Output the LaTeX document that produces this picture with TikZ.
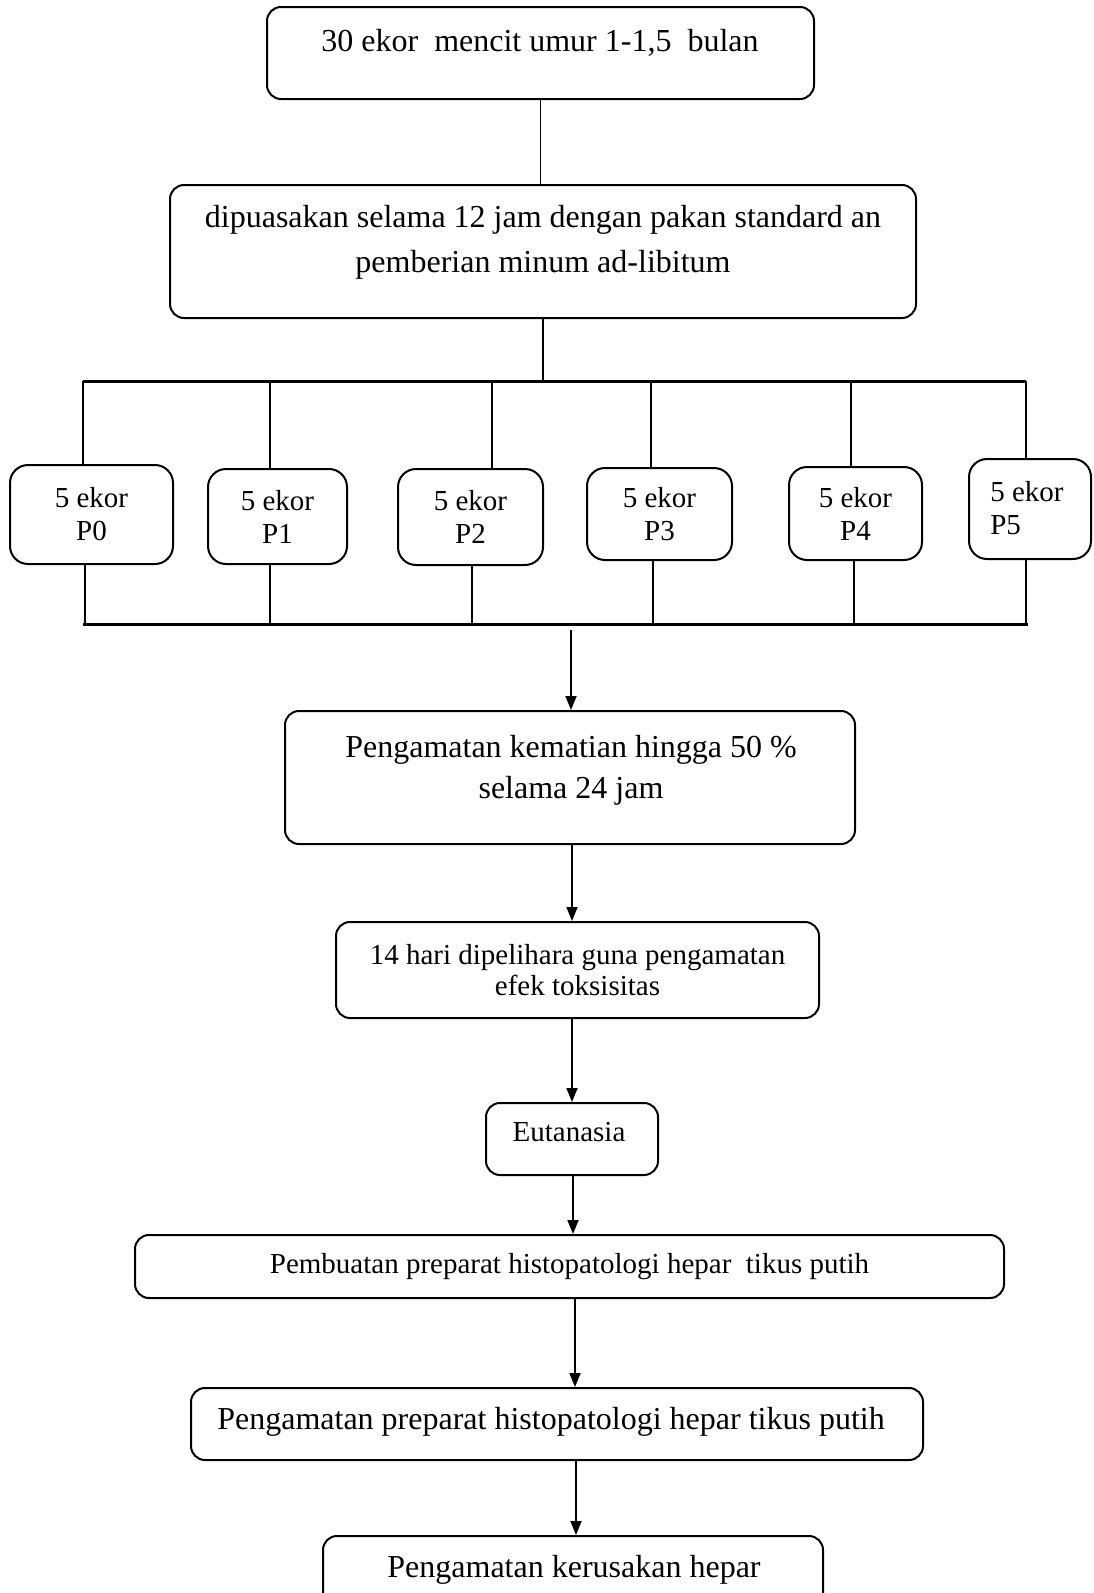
\documentclass[tikz,border=0pt]{standalone}
\usepackage{fontspec}
\setmainfont{Liberation Serif}
\usetikzlibrary{arrows.meta,calc}
\begin{document}
\begin{tikzpicture}[x=1pt,y=-1pt,
  box/.style={draw, line width=2pt, rounded corners=14pt, inner sep=0pt},
  gbox/.style={draw, line width=2pt, rounded corners=18pt, inner sep=0pt, align=center, font=\fontsize{29}{33}\selectfont},
  txtA/.style={font=\fontsize{32}{45}\selectfont, align=center, inner sep=0pt},
  txtB/.style={font=\fontsize{29}{31}\selectfont, align=center, inner sep=0pt},
  ln/.style={line width=1.5pt},
  bar/.style={line width=3pt},
  arr/.style={line width=1.8pt, -{Triangle[length=14pt,width=11pt]}}]
\clip (0,0) rectangle (1093,1593);
\fill[white] (0,0) rectangle (1093,1593);

% top boxes
\node[box, minimum width=547pt, minimum height=92pt] (T) at (540.5,53) {};
\node[txtA] (Tt) at (540,43) {30 ekor\ \ mencit umur 1-1,5\ \ bulan};
\node[box, minimum width=746pt, minimum height=133pt] (D) at (543,251.5) {};
\node[txtA] (Dt) at (543,242) {dipuasakan selama 12 jam dengan pakan standard an\\pemberian minum ad-libitum};
\draw[ln] (T.south) -- (T.south |- D.north);

% split bar
\coordinate (S) at (543,381);
\coordinate (BL) at (83,381);
\coordinate (BR) at (1026,381);
\draw[ln] (D.south -| S) -- (S);
\draw[bar] (BL) -- (BR);

% group boxes
\node[gbox, minimum width=163pt, minimum height=99pt] (P0) at (91.5,514.5) {5 ekor\\P0};
\node[gbox, minimum width=139pt, minimum height=95pt] (P1) at (277.5,516.5) {5 ekor\\P1};
\node[gbox, minimum width=145pt, minimum height=96pt] (P2) at (470.5,517) {5 ekor\\P2};
\node[gbox, minimum width=145pt, minimum height=92pt] (P3) at (659.5,514) {5 ekor\\P3};
\node[gbox, minimum width=133pt, minimum height=93pt] (P4) at (855.5,513.5) {5 ekor\\P4};
\node[gbox, minimum width=122pt, minimum height=100pt] (P5) at (1030,509) {};
\node[gbox, draw=none, align=left] (P5t) at (1027,508) {5 ekor\\P5};

\coordinate (u0) at (83,381);
\coordinate (u1) at (270,381);
\coordinate (u2) at (492,381);
\coordinate (u3) at (651,381);
\coordinate (u4) at (851,381);
\coordinate (u5) at (1026,381);
\foreach \i in {0,...,5} {\draw[ln] (u\i) -- (u\i |- P\i.north);}

\coordinate (l0) at (85,624);
\coordinate (l1) at (270,624);
\coordinate (l2) at (472,624);
\coordinate (l3) at (653,624);
\coordinate (l4) at (854,624);
\coordinate (l5) at (1026,624);
\foreach \i in {0,...,5} {\draw[ln] (P\i.south -| l\i) -- (l\i);}
\coordinate (CL) at (83,624);
\coordinate (CR) at (1028,624);
\draw[bar] (CL) -- (CR);

% lower chain
\node[box, minimum width=570pt, minimum height=133pt] (K) at (570,777.5) {};
\node[txtA, font=\fontsize{32}{41}\selectfont] (Kt) at (571,770) {Pengamatan kematian hingga 50 \%\\selama 24 jam};
\node[box, txtB, minimum width=483pt, minimum height=96pt] (H) at (577.5,970) {14 hari dipelihara guna pengamatan\\efek toksisitas};
\node[box, minimum width=172pt, minimum height=72pt] (E) at (572,1139) {};
\node[txtB] (Et) at (569,1132) {Eutanasia};
\node[box, txtB, minimum width=869pt, minimum height=63pt] (PB) at (569.5,1266.5) {Pembuatan preparat histopatologi hepar\ \ tikus putih};
\node[box, minimum width=732pt, minimum height=72pt] (PP) at (557,1424) {};
\node[txtA] (PPt) at (551,1422) {Pengamatan preparat histopatologi hepar tikus putih};
\node[box, minimum width=500pt, minimum height=100pt] (PK) at (573,1586) {};
\node[txtA] (PKt) at (574,1570) {Pengamatan kerusakan hepar};

\coordinate (m) at (571,630);
\draw[arr] (m) -- (m |- K.north);
\coordinate (a1) at (572,0);
\coordinate (a2) at (572,0);
\coordinate (a3) at (573,0);
\coordinate (a4) at (575,0);
\coordinate (a5) at (576,0);
\draw[arr] (K.south -| a1) -- (H.north -| a1);
\draw[arr] (H.south -| a2) -- (E.north -| a2);
\draw[arr] (E.south -| a3) -- (PB.north -| a3);
\draw[arr] (PB.south -| a4) -- (PP.north -| a4);
\draw[arr] (PP.south -| a5) -- (PK.north -| a5);
\end{tikzpicture}
\end{document}
